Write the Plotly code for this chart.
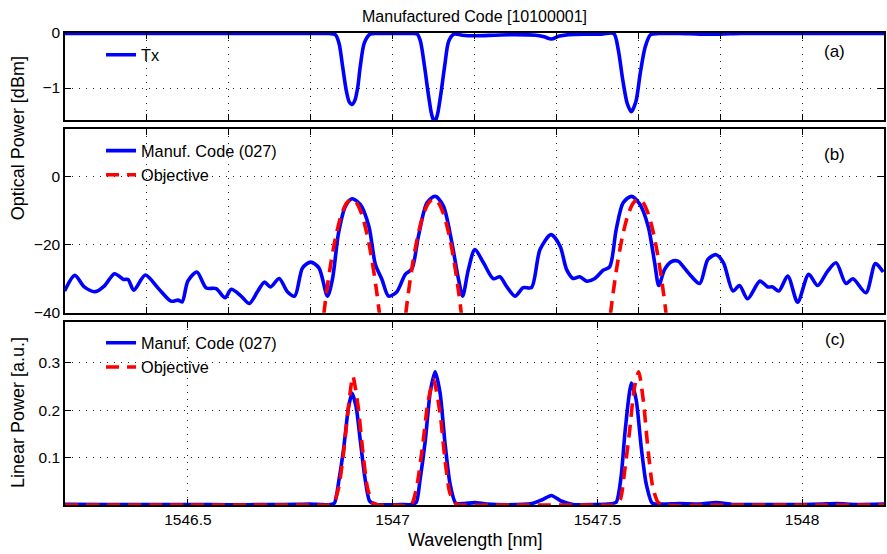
import plotly.graph_objects as go

# ---------------- data ----------------
# Panel (a): Tx spectrum [dBm]
tx_x = [1546.20, 1546.30, 1546.40, 1546.50, 1546.60, 1546.70, 1546.80, 1546.845, 1546.860,
        1546.869, 1546.878, 1546.887, 1546.894, 1546.901, 1546.908, 1546.915, 1546.921,
        1546.931, 1546.945, 1546.970, 1547.000, 1547.040, 1547.060, 1547.068, 1547.078,
        1547.088, 1547.096, 1547.1025, 1547.109, 1547.117, 1547.127, 1547.137, 1547.150,
        1547.170, 1547.200, 1547.250, 1547.300, 1547.350, 1547.370, 1547.388, 1547.405,
        1547.430, 1547.470, 1547.510, 1547.540, 1547.551, 1547.562, 1547.573, 1547.583,
        1547.594, 1547.605, 1547.617, 1547.630, 1547.650, 1547.700, 1547.750, 1547.800,
        1547.850, 1547.900, 1547.950, 1548.000, 1548.100, 1548.200]
tx_y = [-0.01, -0.01, -0.01, -0.01, -0.01, -0.01, -0.01, -0.01, -0.03,
        -0.18, -0.61, -1.05, -1.25, -1.30, -1.22, -0.98, -0.61,
        -0.18, -0.02, -0.01, -0.01, -0.01, -0.02, -0.15, -0.61,
        -1.15, -1.50, -1.62, -1.50, -1.15, -0.61, -0.15, -0.02,
        -0.04, -0.05, -0.04, -0.03, -0.04, -0.07, -0.11, -0.06,
        -0.03, -0.02, -0.02, -0.01, -0.30, -0.85, -1.28, -1.43,
        -1.25, -0.72, -0.25, -0.03, -0.01, -0.01, -0.02, -0.02,
        -0.01, -0.01, -0.01, -0.01, -0.01, -0.01]

# Panel (b): manufactured code [dBm]
mc_db_x = [1546.199, 1546.224, 1546.247, 1546.274, 1546.297, 1546.321, 1546.343, 1546.354,
           1546.368, 1546.396, 1546.427, 1546.459, 1546.476, 1546.486, 1546.500, 1546.522,
           1546.545, 1546.569, 1546.591, 1546.606, 1546.630, 1546.650, 1546.671, 1546.687,
           1546.702, 1546.723, 1546.743, 1546.761, 1546.780, 1546.800, 1546.820, 1546.841,
           1546.853, 1546.868, 1546.885, 1546.901, 1546.921, 1546.942, 1546.958, 1546.974,
           1546.990, 1547.010, 1547.031, 1547.047, 1547.063, 1547.084, 1547.104, 1547.124,
           1547.144, 1547.161, 1547.171, 1547.185, 1547.201, 1547.222, 1547.246, 1547.262,
           1547.278, 1547.299, 1547.319, 1547.339, 1547.360, 1547.387, 1547.409, 1547.425,
           1547.441, 1547.457, 1547.474, 1547.494, 1547.514, 1547.530, 1547.546, 1547.563,
           1547.583, 1547.603, 1547.624, 1547.640, 1547.650, 1547.664, 1547.680, 1547.697,
           1547.709, 1547.729, 1547.750, 1547.770, 1547.790, 1547.808, 1547.831, 1547.847,
           1547.867, 1547.897, 1547.916, 1547.928, 1547.943, 1547.965, 1547.989, 1548.016,
           1548.038, 1548.062, 1548.083, 1548.107, 1548.124, 1548.156, 1548.179, 1548.198]
mc_db_y = [-33.6, -29.0, -32.4, -33.8, -32.0, -28.5, -30.2, -30.2,
           -33.4, -28.9, -32.7, -36.6, -36.3, -36.8, -30.7, -28.0,
           -32.7, -32.9, -35.6, -33.1, -35.1, -37.3, -33.6, -31.0,
           -32.4, -29.9, -33.8, -35.1, -26.8, -25.1, -26.8, -35.1,
           -30.2, -16.5, -8.6, -6.4, -8.1, -14.5, -25.8, -30.2,
           -35.1, -33.9, -28.7, -27.1, -17.5, -7.6, -5.7, -8.6,
           -18.9, -30.2, -35.1, -27.3, -21.4, -25.3, -30.0, -29.4,
           -32.2, -35.1, -32.6, -32.6, -21.4, -17.0, -20.4, -27.3,
           -29.9, -29.4, -30.7, -29.9, -27.5, -26.5, -15.5, -7.6,
           -5.7, -7.9, -14.5, -25.3, -32.0, -27.3, -25.0, -24.8,
           -26.3, -29.2, -31.4, -24.3, -22.9, -25.3, -33.6, -32.0,
           -35.9, -30.7, -32.4, -32.4, -33.6, -29.2, -36.9, -28.7,
           -32.0, -27.8, -25.3, -31.4, -30.0, -34.1, -25.5, -28.0]

# Panel (b): objective [dBm] (three channels, below -40 dBm elsewhere)
obj_db_x = [1546.826, 1546.838, 1546.850, 1546.862, 1546.875, 1546.888, 1546.900,
            1546.912, 1546.925, 1546.938, 1546.950, 1546.962, 1546.974, None,
            1547.026, 1547.038, 1547.050, 1547.062, 1547.075, 1547.088, 1547.100,
            1547.112, 1547.125, 1547.138, 1547.150, 1547.162, 1547.174, None,
            1547.526, 1547.538, 1547.550, 1547.562, 1547.575, 1547.588, 1547.600,
            1547.612, 1547.625, 1547.638, 1547.650, 1547.662, 1547.674]
obj_db_y = [-46.5, -34.6, -24.8, -17.1, -11.1, -7.6, -6.5,
            -7.6, -11.1, -17.1, -24.8, -34.6, -46.5, None,
            -46.5, -34.6, -24.8, -17.1, -11.1, -7.6, -6.5,
            -7.6, -11.1, -17.1, -24.8, -34.6, -46.5, None,
            -46.5, -34.6, -24.8, -17.1, -11.1, -7.6, -6.5,
            -7.6, -11.1, -17.1, -24.8, -34.6, -46.5]

# Panel (c): manufactured code, linear power [a.u.]
mc_lin_x = [1546.200, 1546.300, 1546.400, 1546.500, 1546.600, 1546.700, 1546.770, 1546.797,
            1546.825, 1546.845, 1546.858, 1546.869, 1546.881, 1546.892, 1546.901, 1546.911,
            1546.921, 1546.932, 1546.944, 1546.960, 1546.990, 1547.020, 1547.045, 1547.058,
            1547.067, 1547.080, 1547.092, 1547.104, 1547.116, 1547.128, 1547.140, 1547.154,
            1547.175, 1547.200, 1547.230, 1547.280, 1547.340, 1547.365, 1547.388, 1547.410,
            1547.440, 1547.490, 1547.525, 1547.546, 1547.558, 1547.568, 1547.583, 1547.595,
            1547.607, 1547.619, 1547.634, 1547.660, 1547.700, 1547.750, 1547.790, 1547.830,
            1547.880, 1547.950, 1548.000, 1548.050, 1548.085, 1548.130, 1548.200]
mc_lin_y = [0.0015, 0.001, 0.001, 0.001, 0.0006, 0.0008, 0.0015, 0.002,
            0.001, 0.0005, 0.004, 0.053, 0.123, 0.204, 0.236, 0.207,
            0.137, 0.060, 0.008, 0.001, 0.0003, 0.001, 0.0008, 0.006,
            0.053, 0.137, 0.239, 0.281, 0.236, 0.130, 0.046, 0.004,
            0.003, 0.005, 0.002, 0.0005, 0.003, 0.011, 0.020, 0.009,
            0.001, 0.001, 0.002, 0.006, 0.060, 0.158, 0.257, 0.221,
            0.123, 0.046, 0.004, 0.002, 0.003, 0.002, 0.005, 0.001,
            0.001, 0.001, 0.001, 0.002, 0.003, 0.001, 0.002]

# Panel (c): objective, linear power [a.u.]
obj_lin_x = [1546.200, 1546.500, 1546.800, 1546.845, 1546.858, 1546.869, 1546.881,
             1546.894, 1546.903, 1546.916, 1546.926, 1546.938, 1546.950, 1546.965,
             1547.000, 1547.045, 1547.059, 1547.073, 1547.086, 1547.100, 1547.116,
             1547.128, 1547.140, 1547.155, 1547.170, 1547.300, 1547.500, 1547.540,
             1547.556, 1547.567, 1547.579, 1547.590, 1547.601, 1547.613, 1547.623,
             1547.635, 1547.648, 1547.662, 1547.800, 1548.000, 1548.200]
obj_lin_y = [0.0, 0.0, 0.0, 0.0, 0.008, 0.039, 0.116,
             0.221, 0.272, 0.207, 0.123, 0.039, 0.006, 0.0,
             0.0, 0.0, 0.039, 0.123, 0.215, 0.265, 0.193,
             0.095, 0.025, 0.002, 0.0, 0.0, 0.0, 0.0,
             0.012, 0.074, 0.158, 0.245, 0.281, 0.215, 0.123,
             0.039, 0.006, 0.0, 0.0, 0.0, 0.0]

# axis ticks
x_ticks_ab = [1546.4, 1546.6, 1546.8, 1547.0, 1547.2, 1547.4, 1547.6, 1547.8, 1548.0]
x_ticks_c = [1546.5, 1547.0, 1547.5, 1548.0]
x_tick_labels_c = ["1546.5", "1547", "1547.5", "1548"]
ya_ticks = [-1, 0]
yb_ticks = [-40, -20, 0]
yc_ticks = [0.1, 0.2, 0.3]
yc_tick_labels = ["0.1", "0.2", "0.3"]

# ---------------- figure ----------------
BLUE = "#0000FF"
RED = "#FF0000"
FONT = "Liberation Sans, Arial, sans-serif"
LW = 3.6

fig = go.Figure()

fig.add_trace(go.Scatter(x=tx_x, y=tx_y, mode="lines", name="Tx",
                         line=dict(color=BLUE, width=LW, shape="spline", smoothing=0.8),
                         xaxis="x", yaxis="y", legend="legend"))

fig.add_trace(go.Scatter(x=mc_db_x, y=mc_db_y, mode="lines", name="Manuf. Code (027)",
                         line=dict(color=BLUE, width=LW, shape="spline", smoothing=0.8),
                         xaxis="x2", yaxis="y2", legend="legend2"))
fig.add_trace(go.Scatter(x=obj_db_x, y=obj_db_y, mode="lines", name="Objective",
                         line=dict(color=RED, width=LW, dash="13px,8px", shape="spline", smoothing=0.8),
                         connectgaps=False, xaxis="x2", yaxis="y2", legend="legend2"))

fig.add_trace(go.Scatter(x=mc_lin_x, y=mc_lin_y, mode="lines", name="Manuf. Code (027)",
                         line=dict(color=BLUE, width=LW, shape="spline", smoothing=0.6),
                         xaxis="x3", yaxis="y3", legend="legend3"))
fig.add_trace(go.Scatter(x=obj_lin_x, y=obj_lin_y, mode="lines", name="Objective",
                         line=dict(color=RED, width=LW, dash="13px,8px", shape="spline", smoothing=0.6),
                         xaxis="x3", yaxis="y3", legend="legend3"))

TICKFONT = dict(family=FONT, size=15.5, color="black")
common_x = dict(range=[1546.2, 1548.2], showline=True, linecolor="black", linewidth=1.5,
                mirror="ticks", ticks="inside", ticklen=6, tickcolor="black", tickwidth=1.3,
                showgrid=True, gridcolor="#222222", gridwidth=1, griddash="1px,6px",
                zeroline=False, tickfont=TICKFONT)
common_y = dict(showline=True, linecolor="black", linewidth=1.5, mirror="ticks",
                ticks="inside", ticklen=6, tickcolor="black", tickwidth=1.3,
                showgrid=True, gridcolor="#222222", gridwidth=1, griddash="1px,6px",
                zeroline=False, tickfont=TICKFONT)

LEGFONT = dict(family=FONT, size=16.3, color="black")
fig.update_layout(
    width=887, height=554,
    margin=dict(l=65, r=1, t=33, b=49),
    paper_bgcolor="white", plot_bgcolor="white",
    font=dict(family=FONT, color="black"),
    xaxis=dict(common_x, domain=[0, 1], anchor="y", tickvals=x_ticks_ab, showticklabels=False),
    yaxis=dict(common_y, domain=[0.8157, 1.0], anchor="x", range=[-1.58, 0], tickvals=ya_ticks),
    xaxis2=dict(common_x, domain=[0, 1], anchor="y2", tickvals=x_ticks_ab, showticklabels=False),
    yaxis2=dict(common_y, domain=[0.4074, 0.7956], anchor="x2", range=[-40, 14], tickvals=yb_ticks),
    xaxis3=dict(common_x, domain=[0, 1], anchor="y3", tickvals=x_ticks_c, ticktext=x_tick_labels_c),
    yaxis3=dict(common_y, domain=[0, 0.3867], anchor="x3", range=[0, 0.385],
                tickvals=yc_ticks, ticktext=yc_tick_labels),
    legend=dict(x=0.044, y=0.99, xanchor="left", yanchor="top", bgcolor="rgba(0,0,0,0)",
                font=LEGFONT, tracegroupgap=0),
    legend2=dict(x=0.044, y=0.787, xanchor="left", yanchor="top", bgcolor="rgba(0,0,0,0)",
                 font=LEGFONT, tracegroupgap=0),
    legend3=dict(x=0.044, y=0.38, xanchor="left", yanchor="top", bgcolor="rgba(0,0,0,0)",
                 font=LEGFONT, tracegroupgap=0),
    showlegend=True,
)

fig.add_annotation(text="Manufactured Code [10100001]", xref="paper", yref="paper",
                   x=0.5, y=1.034, xanchor="center", yanchor="middle", showarrow=False,
                   font=dict(family=FONT, size=16, color="black"))
fig.add_annotation(text="Optical Power [dBm]", xref="paper", yref="paper",
                   x=-0.0572, y=0.7775, xanchor="center", yanchor="middle", textangle=-90,
                   showarrow=False, font=dict(family=FONT, size=18, color="black"))
fig.add_annotation(text="Linear Power [a.u.]", xref="paper", yref="paper",
                   x=-0.0572, y=0.195, xanchor="center", yanchor="middle", textangle=-90,
                   showarrow=False, font=dict(family=FONT, size=18, color="black"))
fig.add_annotation(text="Wavelength [nm]", xref="paper", yref="paper",
                   x=0.5, y=-0.0742, xanchor="center", yanchor="middle",
                   showarrow=False, font=dict(family=FONT, size=18, color="black"))
for lab, yy in [("(a)", 0.961), ("(b)", 0.742), ("(c)", 0.350)]:
    fig.add_annotation(text=lab, xref="paper", yref="paper", x=0.940, y=yy,
                       xanchor="center", yanchor="middle", showarrow=False,
                       font=dict(family=FONT, size=17, color="black"))

fig.write_html("out.html")
